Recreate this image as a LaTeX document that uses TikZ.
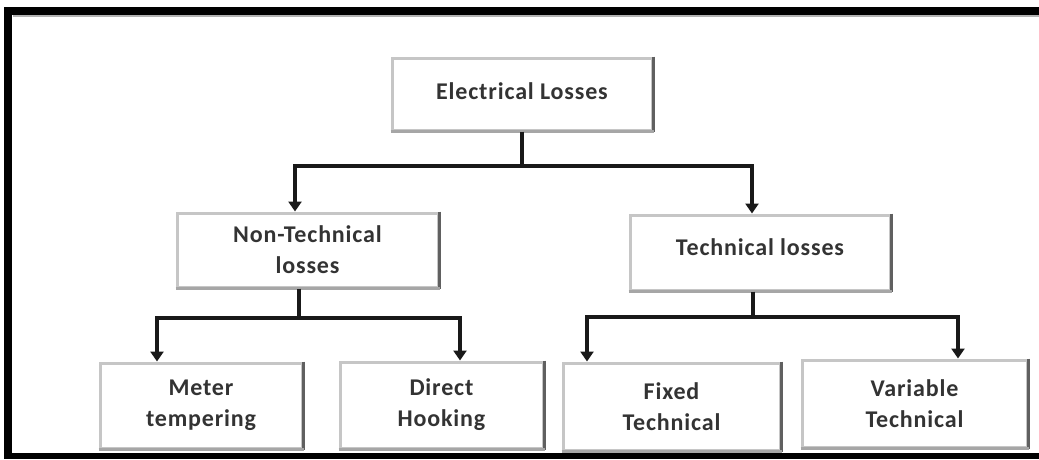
\documentclass[tikz,border=0pt]{standalone}
\usepackage{fontspec}
\setmainfont{Carlito}[LetterSpace=3.5]
\usetikzlibrary{arrows.meta}
\begin{document}
\begin{tikzpicture}[x=1pt,y=-1pt,
  box/.style={draw=gray!45, line width=3pt, fill=white, align=center,
    inner sep=0pt, font=\bfseries\fontsize{24}{31}\selectfont, text=black!80},
  link/.style={line width=3.5pt, black!90},
  arr/.style={link, -{Triangle[width=13pt,length=10pt]}}]
  % canvas and frame (top, left and bottom bands)
  \useasboundingbox (0,0) rectangle (1039,459);
  \fill[white] (0,0) rectangle (1039,459);
  \fill[black] (4,7) rectangle (1039,15);
  \fill[gray!60] (13,15) rectangle (1039,16.5);
  \fill[black] (4,7) rectangle (12,459);
  \fill[black] (4,453) rectangle (1039,459);

  % boxes
  \node[box, minimum width=260, minimum height=72] (el) at (522,94) {\raisebox{5pt}{Electrical Losses}};
  \node[box, minimum width=261, minimum height=74] (nt) at (307.5,250) {Non-Technical\\losses};
  \node[box, minimum width=260, minimum height=75] (tl) at (760,252.5) {\raisebox{10pt}{Technical losses}};
  \node[box, minimum width=202, minimum height=85] (mt) at (201,405.5) {Meter\\tempering};
  \node[box, minimum width=203, minimum height=86] (dh) at (441.5,405) {Direct\\Hooking};
  \node[box, minimum width=217, minimum height=87] (ft) at (671.5,406.5) {Fixed\\Technical};
  \node[box, minimum width=225, minimum height=87] (vt) at (914.5,403.5) {Variable\\Technical};

  % darker right and lower edges of every box
  \foreach \b in {el,nt,tl,mt,dh,ft,vt}{
    \draw[gray!75!black, line width=3pt] (\b.north east) -- (\b.south east);
    \draw[gray!70, line width=3pt] (\b.south west) -- (\b.south east);
  }

  % junction points of the connectors
  \coordinate (j0) at (522,166);
  \coordinate (j1) at (299,318);
  \coordinate (j2) at (753,317);

  % connectors
  \draw[link] (el.south) -- (j0);
  \draw[arr] (j0) -| ([xshift=-12.5]nt.north);
  \draw[arr] (j0) -| ([xshift=-8]tl.north);

  \draw[link] ([xshift=-8.5]nt.south) -- (j1);
  \draw[arr] (j1) -| ([xshift=-44]mt.north);
  \draw[arr] (j1) -| ([xshift=18.5]dh.north);

  \draw[link] ([xshift=-7]tl.south) -- (j2);
  \draw[arr] (j2) -| ([xshift=-84.5]ft.north);
  \draw[arr] (j2) -| ([xshift=43.5]vt.north);
\end{tikzpicture}
\end{document}
